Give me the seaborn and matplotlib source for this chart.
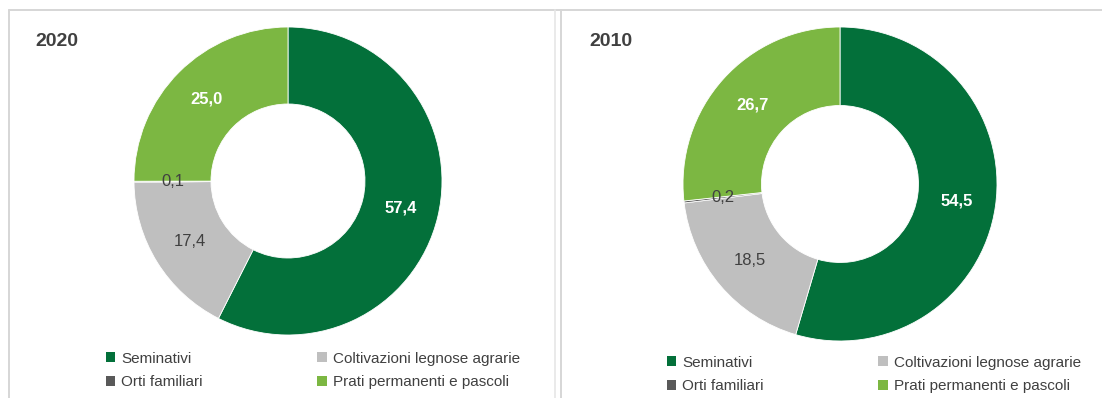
import matplotlib
matplotlib.use("Agg")
import matplotlib.pyplot as plt
from matplotlib.patches import Patch
from matplotlib.lines import Line2D
import numpy as np
import seaborn as sns

# Shares of utilised agricultural area by land use (%)
categories = ["Seminativi", "Coltivazioni legnose agrarie", "Orti familiari",
              "Prati permanenti e pascoli"]
years = ["2020", "2010"]
shares_2020 = [57.4, 17.4, 0.1, 25.0]
shares_2010 = [54.5, 18.5, 0.2, 26.7]

sns.set_theme(style="white")
plt.rcParams["font.family"] = ["Liberation Sans Narrow", "Liberation Sans", "DejaVu Sans"]

palette = ["#03703a", "#bfbfbf", "#595959", "#7cb742"]
label_colors = ["white", "#404040", "#404040", "white"]
label_weights = ["bold", "normal", "normal", "bold"]

W, H = 1102, 398
fig = plt.figure(figsize=(W / 100, H / 100), dpi=100)
fig.patch.set_facecolor("white")


def fx(px):
    return px / W


def fy(py):
    return 1 - py / H


# panel frames
frame_kw = dict(color="#d6d6d6", lw=1.4, transform=fig.transFigure)
fig.add_artist(Line2D([fx(9), fx(1102)], [fy(10), fy(10)], **frame_kw))
fig.add_artist(Line2D([fx(9), fx(9)], [fy(10), fy(398)], **frame_kw))
fig.add_artist(Line2D([fx(555), fx(555)], [fy(10), fy(398)], color="#e6e6e6", lw=1.2,
                      transform=fig.transFigure))
fig.add_artist(Line2D([fx(561), fx(561)], [fy(10), fy(398)], **frame_kw))

# (centre x, centre y, radius) of each donut in pixels, title position, legend anchor
panels = [
    dict(values=shares_2020, year=years[0], cx=288, cy=181, r=154,
         title=(57, 42), legend=(106, 370.5)),
    dict(values=shares_2010, year=years[1], cx=840, cy=184, r=157,
         title=(611, 42), legend=(667, 374.5)),
]

for p in panels:
    cx, cy, r = p["cx"], p["cy"], p["r"]
    ax = fig.add_axes([fx(cx - r), fy(cy + r), 2 * r / W, 2 * r / H])
    wedges, _ = ax.pie(p["values"], colors=palette, startangle=90, counterclock=False,
                       radius=1.0,
                       wedgeprops=dict(width=0.5, edgecolor="white", linewidth=0.6))
    ax.set_xlim(-1, 1)
    ax.set_ylim(-1, 1)
    ax.set_aspect("equal")
    ax.axis("off")

    for w, v, c, wt in zip(wedges, p["values"], label_colors, label_weights):
        mid = np.deg2rad((w.theta1 + w.theta2) / 2)
        ax.text(0.75 * np.cos(mid), 0.75 * np.sin(mid),
                f"{v:.1f}".replace(".", ","), ha="center", va="center",
                fontsize=12, color=c, fontweight=wt)

    tx, ty = p["title"]
    fig.text(fx(tx), fy(ty), p["year"], ha="center", va="center", fontsize=14,
             fontweight="bold", color="#404040")

    order = [0, 2, 1, 3]
    handles = [Patch(facecolor=palette[i], edgecolor="none") for i in order]
    labels = [categories[i] for i in order]
    lx, ly = p["legend"]
    fig.legend(handles, labels, ncol=2, loc="center left",
               bbox_to_anchor=(fx(lx), fy(ly)), frameon=False,
               fontsize=11.0, handlelength=0.6, handleheight=0.6,
               handletextpad=0.4, columnspacing=7.5, labelspacing=0.65,
               borderpad=0, borderaxespad=0, labelcolor="#404040")

fig.savefig("out.png", dpi=100, facecolor="white")
